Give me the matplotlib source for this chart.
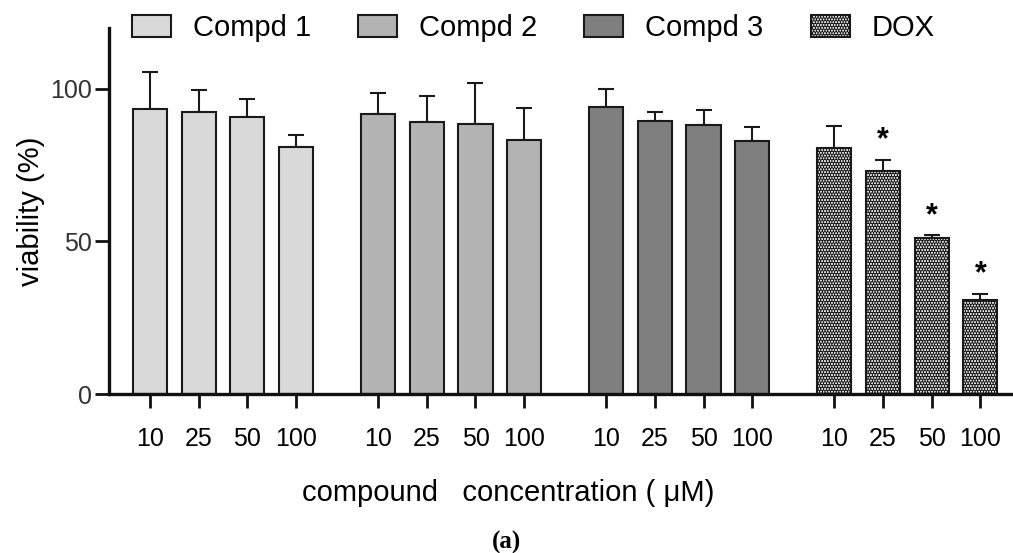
import matplotlib
matplotlib.use("Agg")
import matplotlib.pyplot as plt
from matplotlib.patches import Patch

plt.rcParams["font.family"] = ["Liberation Sans", "DejaVu Sans"]
plt.rcParams["hatch.color"] = "black"
plt.rcParams["hatch.linewidth"] = 2.0

compounds = ["Compd 1", "Compd 2", "Compd 3", "DOX"]
conc_labels = ["10", "25", "50", "100"]
compd1_mean = [93.5, 92.5, 90.9, 81.0]
compd1_err = [12.0, 7.1, 5.9, 3.8]
compd2_mean = [91.7, 89.3, 88.5, 83.2]
compd2_err = [6.9, 8.5, 13.5, 10.5]
compd3_mean = [94.2, 89.5, 88.2, 83.0]
compd3_err = [5.7, 3.0, 4.9, 4.6]
dox_mean = [80.8, 73.0, 51.1, 30.8]
dox_err = [6.9, 3.8, 0.9, 1.9]
dox_signif = [False, True, True, True]

means = [compd1_mean, compd2_mean, compd3_mean, dox_mean]
errs = [compd1_err, compd2_err, compd3_err, dox_err]
colors = ["#d9d9d9", "#b3b3b3", "#7f7f7f", "white"]
hatches = [None, None, None, "......"]

group_step = 4.68
bar_w = 0.7

fig = plt.figure(figsize=(10.13, 5.53), dpi=100)
ax = fig.add_axes([0.1076, 0.2875, 0.89, 0.662])

xticks = []
for g, (m, e) in enumerate(zip(means, errs)):
    xs = [g * group_step + i for i in range(len(m))]
    xticks += xs
    ax.bar(xs, m, width=bar_w, color=colors[g], edgecolor="#1a1a1a",
           linewidth=1.5, hatch=hatches[g], zorder=2)
    ax.errorbar(xs, m, yerr=[[0] * len(e), e], fmt="none", ecolor="#1a1a1a",
                elinewidth=1.5, capsize=6, capthick=1.5, zorder=1)

dox_x = [3 * group_step + i for i in range(4)]
for x, m, e, s in zip(dox_x, dox_mean, dox_err, dox_signif):
    if s:
        ax.text(x, m + e + 1.5, "*", ha="center", va="bottom",
                fontsize=22, fontweight="bold")

ax.set_xlim(-0.84, 17.66)
ax.set_ylim(0, 120)
ax.set_yticks([0, 50, 100])
ax.set_xticks(xticks)
ax.set_xticklabels(conc_labels * 4)
ax.tick_params(axis="both", length=10, width=2, labelsize=18, color="#111111")
ax.tick_params(axis="x", pad=14)
ax.tick_params(axis="y", pad=2)
for lab in ax.get_yticklabels():
    lab.set_color("#333333")
for side in ("top", "right"):
    ax.spines[side].set_visible(False)
for side in ("left", "bottom"):
    ax.spines[side].set_linewidth(2.4)
    ax.spines[side].set_color("#111111")
ax.set_facecolor("none")

ax.set_ylabel("viability (%)", fontsize=21, labelpad=4)
fig.text(0.502, 1 - 493 / 553, "compound   concentration ( \u03bcM)",
         ha="center", va="center", fontsize=21)
fig.text(0.5, 1 - 542 / 553, "(a)", ha="center", va="center", fontsize=18,
         fontweight="bold", family=["Liberation Serif", "DejaVu Serif"])

handles = [Patch(facecolor=c, edgecolor="#1a1a1a", linewidth=1.5, hatch=h)
           for c, h in zip(colors, hatches)]
fig.legend(handles, compounds, loc="center left",
           bbox_to_anchor=(117 / 1013, 1 - 28 / 553), ncol=4, frameon=False,
           fontsize=21, handlelength=1.34, handleheight=0.75,
           handletextpad=0.75, columnspacing=1.62, borderpad=0)

fig.savefig("out.png", dpi=100, facecolor="white")
